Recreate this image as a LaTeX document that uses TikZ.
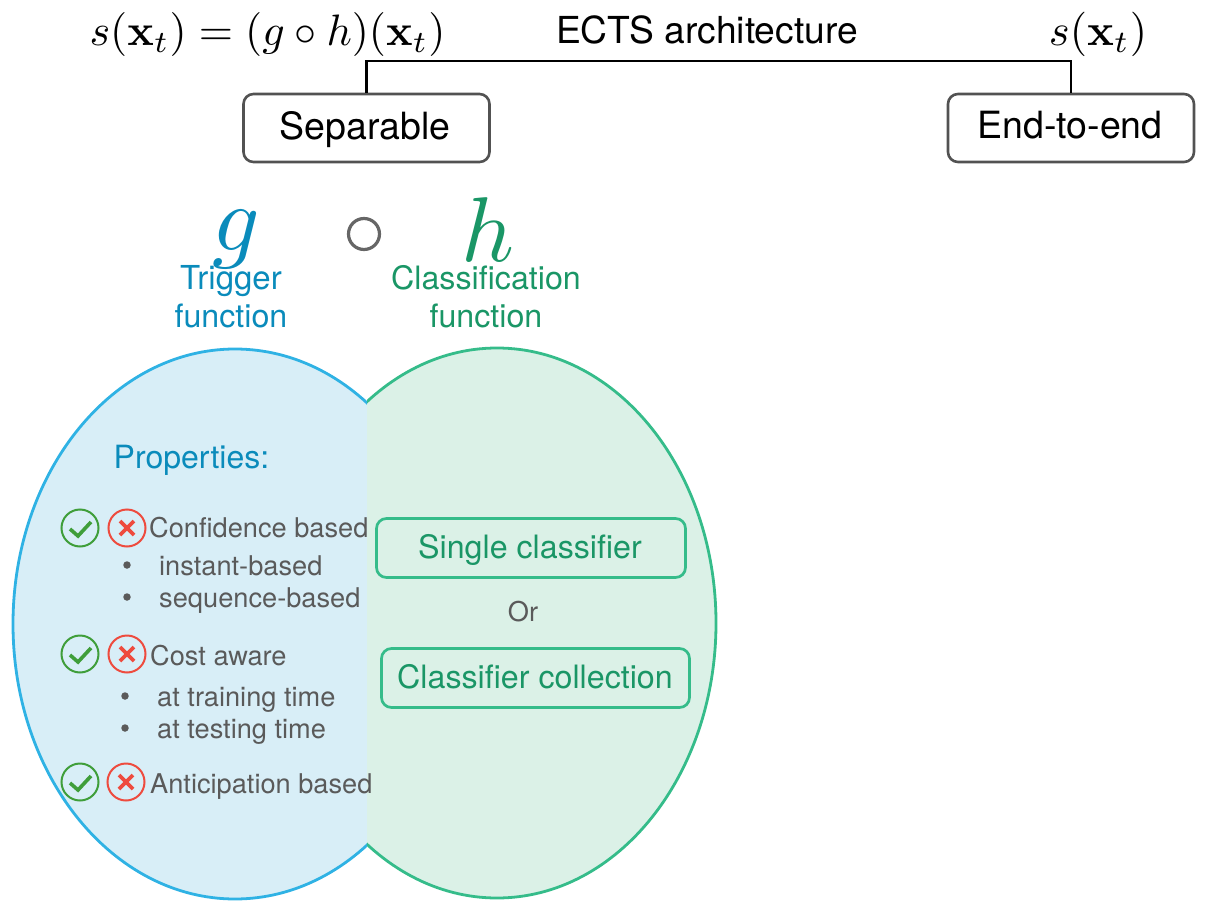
\documentclass[tikz,border=0pt]{standalone}
\usepackage[no-math]{fontspec}
\usepackage{graphicx}
\setmainfont{TeX Gyre Heros}
\definecolor{gbl}{HTML}{0A8BBB}
\definecolor{hgr}{HTML}{1A9666}
\definecolor{lblue}{HTML}{D8EEF7}
\definecolor{lgreen}{HTML}{DBF1E7}
\definecolor{eblue}{HTML}{2FB2E4}
\definecolor{egreen}{HTML}{35BC8A}
\definecolor{txt}{HTML}{5A5A5A}
\definecolor{okc}{HTML}{3F9E3A}
\definecolor{noc}{HTML}{EE4B3E}
\newcommand{\fs}[1]{\fontsize{#1}{#1}\selectfont}
\tikzset{
 x=1pt,y=-1pt,
 archbox/.style={draw=black!68,line width=2.6pt,rounded corners=10pt,inner sep=0pt,text=black},
 choice/.style={draw=egreen,line width=2.7pt,rounded corners=10pt,inner sep=0pt},
 prop/.style={text=txt,anchor=base west,inner sep=0pt,font=\fs{27.2}},
 dot/.style={circle,fill=txt,inner sep=0pt,minimum size=7.5pt},
 okmark/.style={circle,draw=okc,line width=2pt,minimum size=37pt,inner sep=0pt},
 nomark/.style={circle,draw=noc,line width=2pt,minimum size=37pt,inner sep=0pt},
 lbl/.style={inner sep=0pt,anchor=base},
}
\newcommand{\ticks}[4]{%
 \node[okmark] (ok#1) at (#2,#4) {};
 \node[nomark] (no#1) at (#3,#4) {};
 \draw[okc,line width=3.6pt] ([shift={(-10,1)}]ok#1.center) -- ([shift={(-2,8)}]ok#1.center) -- ([shift={(11,-6)}]ok#1.center);
 \draw[noc,line width=3.6pt] ([shift={(-7,-7)}]no#1.center) -- ([shift={(7,7)}]no#1.center) ([shift={(-7,7)}]no#1.center) -- ([shift={(7,-7)}]no#1.center);
}
\begin{document}
\begin{tikzpicture}
\useasboundingbox (0,0) rectangle (1207,912);
% Venn regions
\begin{scope}
 \clip (0,0) rectangle (367,912);
 \fill[lblue] (235,624) ellipse [x radius=222,y radius=275];
 \draw[eblue,line width=2.8pt] (235,624) ellipse [x radius=222,y radius=275];
\end{scope}
\begin{scope}
 \clip (367,0) rectangle (1207,912);
 \fill[lgreen] (497,623) ellipse [x radius=219,y radius=275];
 \draw[egreen,line width=2.8pt] (497,623) ellipse [x radius=219,y radius=275];
\end{scope}
% header
\node[lbl] (formula) at (267.5,46) {\scalebox{4.4}{$s(\mathbf{x}_t)=(g\circ h)(\mathbf{x}_t)$}};
\node[lbl,font=\fs{37.2},text=black] (ects) at (707,44) {ECTS architecture};
\node[lbl] (stx) at (1098,46) {\scalebox{4.45}{$s(\mathbf{x}_t)$}};
\node[archbox,minimum width=246pt,minimum height=68pt] (sep) at (366.5,128) {};
\node[lbl,font=\fs{37.5},text=black] (septxt) at (365,140) {Separable};
\node[archbox,minimum width=246pt,minimum height=68pt] (e2e) at (1071,128) {};
\node[lbl,font=\fs{37.5},text=black] (e2etxt) at (1070,139) {End-to-end};
\coordinate (bar) at (700,61);
\draw[black,line width=2.8pt,line join=miter] (sep.north) -- (sep.north |- bar) -- (e2e.north |- bar) -- (e2e.north);
% g o h
\node[lbl,text=gbl] (g) at (236,250) {\scalebox{9.3}{$g$}};
\node[circle,draw=black!60,line width=3.2pt,minimum size=31pt,inner sep=0pt] (comp) at (364,234) {};
\node[lbl,text=hgr] (h) at (488,261) {\scalebox{9.2}{$h$}};
\node[lbl,text=gbl,font=\fs{33}] (trig) at (231,289) {Trigger};
\node[lbl,text=gbl,font=\fs{32.2}] (trigf) at (231,327) {function};
\node[lbl,text=hgr,font=\fs{32.2}] (cls) at (486,289) {Classification};
\node[lbl,text=hgr,font=\fs{32.2}] (clsf) at (486,327) {function};
% left
\node[inner sep=0pt,anchor=base west,text=gbl,font=\fs{32}] (props) at (113.5,468) {Properties:};
\ticks{a}{80}{127}{528}
\ticks{b}{80}{127}{654}
\ticks{c}{80}{126}{782}
\node[prop] (conf) at (149,537) {Confidence based};
\node[dot] (d1) at (127,565) {};
\node[prop] (inst) at (159,575) {instant-based};
\node[dot] (d2) at (127,597) {};
\node[prop] (seq) at (159,607) {sequence-based};
\node[prop] (cost) at (150,665) {Cost aware};
\node[dot] (d3) at (125,696) {};
\node[prop] (train) at (157,706) {at training time};
\node[dot] (d4) at (125,728) {};
\node[prop] (test) at (157,738) {at testing time};
\node[prop] (anti) at (150,793) {Anticipation based};
% right
\node[choice,minimum width=309pt,minimum height=59pt] (single) at (531,548) {};
\node[lbl,text=hgr,font=\fs{32.2}] (singletxt) at (530,558) {Single classifier};
\node[lbl,text=txt,font=\fs{27.2}] (or) at (523,621) {Or};
\node[choice,minimum width=308pt,minimum height=59pt] (coll) at (535.5,678) {};
\node[lbl,text=hgr,font=\fs{32.2}] (colltxt) at (535,688) {Classifier collection};
\end{tikzpicture}
\end{document}
